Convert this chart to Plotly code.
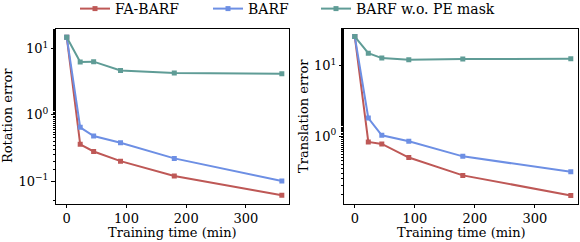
import plotly.graph_objects as go
from plotly.subplots import make_subplots

time_min = [0, 22.5, 45, 90, 180, 360]

rot_fa_barf = [15.0, 0.36, 0.28, 0.20, 0.119, 0.061]
rot_barf = [15.0, 0.65, 0.48, 0.38, 0.22, 0.10]
rot_barf_nomask = [15.0, 6.3, 6.4, 4.7, 4.3, 4.2]

tr_fa_barf = [25.6, 0.83, 0.78, 0.50, 0.28, 0.146]
tr_barf = [25.6, 1.81, 1.03, 0.85, 0.52, 0.315]
tr_barf_nomask = [25.6, 14.9, 12.7, 12.0, 12.3, 12.4]

series_names = ["FA-BARF", "BARF", "BARF w.o. PE mask"]
colors = ["#BE5856", "#6D8FE4", "#5F9C96"]

x_ticks = [0, 100, 200, 300]
y_tickvals = [0.1, 1, 10]
y_ticktext = ["10<sup>\u22121</sup>", "10<sup>0</sup>", "10<sup>1</sup>"]
x_title = "Training time (min)"
y_titles = ["Rotation error", "Translation error"]

FONT = "DejaVu Serif"
TICK_FS = 13
TITLE_FS = 13
LEG_FS = 14

W, H = 580, 249   # page is shifted up by 7px so the legend sits at the top
SHIFT = 7


def py(page_y):
    """page pixel y -> paper fraction"""
    return (H - (page_y + SHIFT)) / H


fig = make_subplots(rows=1, cols=2)

legend_ids = ["legend", "legend2", "legend3"]
for col, data in [(1, [rot_fa_barf, rot_barf, rot_barf_nomask]),
                  (2, [tr_fa_barf, tr_barf, tr_barf_nomask])]:
    for name, vals, c, lg in zip(series_names, data, colors, legend_ids):
        fig.add_trace(go.Scatter(
            x=time_min, y=vals, name=name, mode="lines+markers",
            line=dict(color=c, width=2),
            marker=dict(symbol="square", size=5, color=c),
            legend=lg, showlegend=(col == 1)), row=1, col=col)

axis_common = dict(showline=True, linecolor="black", linewidth=1, mirror=True,
                   showgrid=False, zeroline=False, ticks="outside",
                   tickcolor="black", tickfont=dict(family=FONT, size=TICK_FS, color="black"))

fig.update_xaxes(**axis_common, ticklen=3, tickvals=x_ticks, range=[-18, 372])
fig.update_yaxes(**axis_common, ticklen=4, type="log", tickvals=y_tickvals, ticktext=y_ticktext,
                 minor=dict(ticks="outside", ticklen=2, tickcolor="black", showgrid=False))

fig.update_xaxes(domain=[56 / W, 289 / W], row=1, col=1)
fig.update_xaxes(domain=[344 / W, 578 / W], row=1, col=2)
fig.update_yaxes(domain=[py(203.5), py(29)])
fig.update_yaxes(range=[-1.34, 1.30], row=1, col=1)
fig.update_yaxes(range=[-0.95, 1.515], row=1, col=2)

# axis titles
title_font = dict(family=FONT, size=TITLE_FS, color="black")
for xc in [(56 + 289) / 2 / W, (344 + 578) / 2 / W]:
    fig.add_annotation(text=x_title, xref="paper", yref="paper", x=xc, y=py(232),
                       xanchor="center", yanchor="middle", showarrow=False, font=title_font)
for xp, t in zip([7 / W, 303 / W], y_titles):
    fig.add_annotation(text=t, xref="paper", yref="paper", x=xp, y=py(116),
                       xanchor="center", yanchor="middle", textangle=-90, showarrow=False,
                       font=title_font)

leg_common = dict(orientation="h", yanchor="top", y=1.0, xanchor="left",
                  font=dict(family=FONT, size=LEG_FS, color="black"),
                  bgcolor="rgba(0,0,0,0)", itemwidth=30)
legend_x_px = [75, 208, 316]

fig.update_layout(
    width=W, height=H,
    margin=dict(l=0, r=0, t=0, b=0),
    plot_bgcolor="white", paper_bgcolor="white",
    font=dict(family=FONT, size=TICK_FS, color="black"),
    legend=dict(**leg_common, x=legend_x_px[0] / W),
    legend2=dict(**leg_common, x=legend_x_px[1] / W),
    legend3=dict(**leg_common, x=legend_x_px[2] / W),
)

fig.write_html("out.html", config={"displayModeBar": False},
               post_script="document.body.style.margin='0';document.body.style.marginTop='-%dpx';"
                           "document.body.style.overflow='hidden';" % SHIFT)
